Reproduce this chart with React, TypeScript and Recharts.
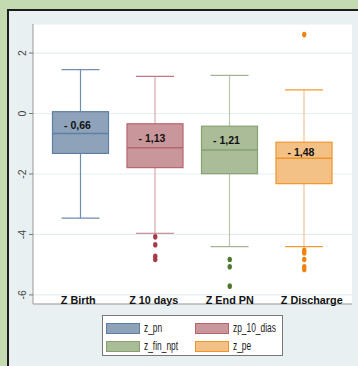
import React from "react";
import { Bar, CartesianGrid, ComposedChart, Line, XAxis, YAxis } from "recharts";

const categories = ["Z Birth", "Z 10 days", "Z End PN", "Z Discharge"];
const seriesNames = ["z_pn", "zp_10_dias", "z_fin_npt", "z_pe"];
const whiskerLow = [-3.46, -3.96, -4.4, -4.4];
const q1 = [-1.32, -1.79, -1.99, -2.32];
const median = [-0.66, -1.13, -1.21, -1.48];
const q3 = [0.06, -0.34, -0.42, -0.95];
const whiskerHigh = [1.45, 1.23, 1.26, 0.78];
const medianLabels = ["- 0,66", "- 1,13", "- 1,21", "- 1,48"];
const outliers = [
  [],
  [-4.08, -4.34, -4.72, -4.83],
  [-4.83, -5.07, -5.71],
  [2.61, -4.52, -4.61, -4.83, -5.07, -5.16],
];
const yTicks = [-6, -4, -2, 0, 2];

const boxFill = ["#8ea3ba", "#c9979b", "#aabd98", "#f3c085"];
const boxStroke = ["#5c7fa3", "#b8646c", "#86a070", "#f0952b"];
const whiskerColor = ["#6f8eb0", "#dba8ad", "#b9c9aa", "#f8c48c"];
const capColor = ["#6f8eb0", "#c27780", "#a3b691", "#f29a35"];
const dotColor = ["#5c7fa3", "#a63a48", "#4e7a2e", "#f0820f"];
const labelNudge = [-2.5, -1.5, 0, 7.5];

const maxOut = Math.max(...outliers.map((o) => o.length));
const rows = categories.map((cat, i) => {
  const row: Record<string, any> = {
    cat,
    idx: i,
    lo: whiskerLow[i],
    hi: whiskerHigh[i],
    q1: q1[i],
    q3: q3[i],
    med: median[i],
    label: medianLabels[i],
  };
  for (let k = 0; k < maxOut; k++) row[`o${k}`] = outliers[i][k] ?? null;
  return row;
});

function BoxShape(props: any) {
  const { x, y, width, height, payload } = props;
  const i = payload.idx;
  const { lo, hi } = payload;
  const toPx = (v: number) => y + ((hi - v) / (hi - lo)) * height;
  const cx = x + width / 2;
  const yQ3 = toPx(payload.q3);
  const yQ1 = toPx(payload.q1);
  const yMed = toPx(payload.med);
  const yHi = toPx(hi);
  const yLo = toPx(lo);
  const cap = 19;
  return (
    <g>
      <line x1={cx} x2={cx} y1={yHi} y2={yQ3} stroke={whiskerColor[i]} strokeWidth={1.2} />
      <line x1={cx} x2={cx} y1={yQ1} y2={yLo} stroke={whiskerColor[i]} strokeWidth={1.2} />
      <line x1={cx - cap} x2={cx + cap} y1={yHi} y2={yHi} stroke={capColor[i]} strokeWidth={1.2} />
      <line x1={cx - cap} x2={cx + cap} y1={yLo} y2={yLo} stroke={capColor[i]} strokeWidth={1.2} />
      <rect x={x} y={yQ3} width={width} height={yQ1 - yQ3} fill={boxFill[i]} stroke={boxStroke[i]} strokeWidth={1.2} />
      <line x1={x} x2={x + width} y1={yMed} y2={yMed} stroke={boxStroke[i]} strokeWidth={1.5} />
      <text
        x={cx - 3}
        y={(yQ3 + yMed) / 2 + 2}
        textAnchor="middle"
        dominantBaseline="central"
        fontFamily="Liberation Sans, Arial, sans-serif"
        fontWeight="bold"
        fontSize={10.5}
        fill="#111"
      >
        {payload.label}
      </text>
    </g>
  );
}

function OutlierDot(props: any) {
  const { cx, cy, payload, value } = props;
  if (value == null || cy == null || Number.isNaN(cy)) return <g key={props.key} />;
  return <ellipse key={props.key} cx={cx} cy={cy} rx={2.2} ry={2.8} fill={dotColor[payload.idx]} />;
}

function XTick(props: any) {
  const { x, y, payload, index } = props;
  return (
    <text
      x={x + labelNudge[index]}
      y={y - 12}
      textAnchor="middle"
      dominantBaseline="central"
      fontFamily="Liberation Sans, Arial, sans-serif"
      fontWeight="bold"
      fontSize={10.8}
      fill="#111"
    >
      {payload.value}
    </text>
  );
}

function YTick(props: any) {
  const { x, y, payload } = props;
  const tx = x - 5;
  return (
    <text
      x={tx}
      y={y}
      transform={`rotate(-90, ${tx}, ${y})`}
      textAnchor="middle"
      dominantBaseline="central"
      fontFamily="Liberation Sans, Arial, sans-serif"
      fontSize={10.5}
      fill="#444"
    >
      {payload.value}
    </text>
  );
}

function LegendBox() {
  const item = (i: number) => (
    <div key={i} style={{ display: "flex", alignItems: "center", height: 14 }}>
      <div
        style={{
          width: 32,
          height: 9,
          background: boxFill[i],
          border: `1px solid ${boxStroke[i]}`,
          marginRight: 4,
          flexShrink: 0,
        }}
      />
      <svg width={50} height={14} style={{ overflow: "visible" }}>
        <text
          x={0}
          y={7}
          dominantBaseline="central"
          fontFamily="Liberation Sans, Arial, sans-serif"
          fontSize={12}
          fill="#222"
          transform="scale(0.7,1)"
        >
          {seriesNames[i]}
        </text>
      </svg>
    </div>
  );
  return (
    <div
      style={{
        position: "absolute",
        left: 102,
        top: 315,
        width: 181,
        height: 41,
        background: "#fff",
        border: "1px solid #777",
        boxSizing: "border-box",
        display: "grid",
        gridTemplateColumns: "89px 88px",
        padding: "5px 0 0 3px",
        rowGap: 2,
      }}
    >
      {item(0)}
      {item(1)}
      {item(2)}
      {item(3)}
    </div>
  );
}

export default function App() {
  return (
    <div style={{ position: "absolute", left: 0, top: 0, width: 358, height: 366, background: "#c4dbb1", overflow: "hidden" }}>
      <div
        style={{
          position: "absolute",
          left: 7,
          top: 9,
          right: 0,
          bottom: 0,
          background: "#e8f0f2",
          borderTop: "2px solid #1c1c1c",
          borderLeft: "2px solid #1c1c1c",
        }}
      />
      <div style={{ position: "absolute", left: 0, top: 0 }}>
        <ComposedChart width={358} height={366} data={rows} margin={{ top: 24, right: 6, bottom: 61, left: 8 }}>
          <CartesianGrid vertical={false} fill="#ffffff" stroke="#e4edf0" strokeWidth={1.2} />
          <XAxis
            dataKey="cat"
            type="category"
            height={1}
            padding={{ left: 10.5, right: 10.5 }}
            axisLine={{ stroke: "#9a9a9a" }}
            tickLine={false}
            tick={<XTick />}
            interval={0}
          />
          <YAxis
            type="number"
            width={25}
            domain={[-6.3, 2.96]}
            ticks={yTicks}
            allowDataOverflow
            axisLine={{ stroke: "#9a9a9a" }}
            tickLine={{ stroke: "#777" }}
            tickSize={4}
            tick={<YTick />}
          />
          <Bar dataKey={(d: any) => [d.lo, d.hi]} barSize={56} shape={<BoxShape />} isAnimationActive={false} />
          {Array.from({ length: maxOut }, (_, k) => (
            <Line
              key={k}
              dataKey={`o${k}`}
              stroke="none"
              dot={(p: any) => <OutlierDot {...p} />}
              activeDot={false}
              isAnimationActive={false}
            />
          ))}
        </ComposedChart>
      </div>
      <LegendBox />
    </div>
  );
}
